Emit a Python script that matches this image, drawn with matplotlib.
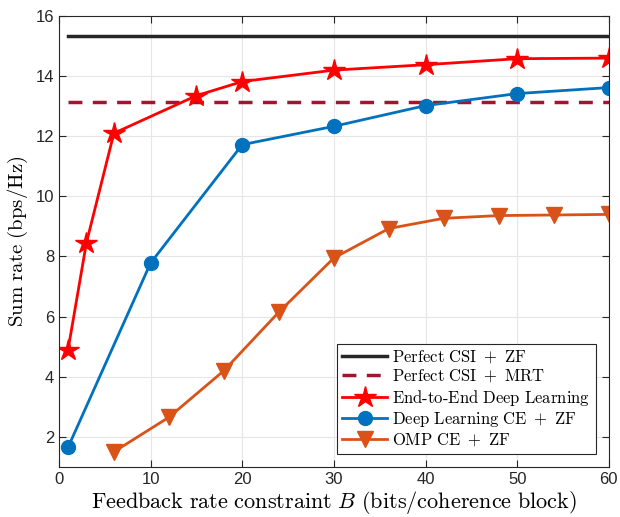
import matplotlib.pyplot as plt
import numpy as np

plt.rcParams['mathtext.fontset'] = 'cm'
plt.rcParams['font.family'] = ['Liberation Sans', 'DejaVu Sans']

# data
zf_perfect = 15.33
mrt_perfect = 13.15

b_e2e = [1, 3, 6, 15, 20, 30, 40, 50, 60]
rate_e2e = [4.9, 8.45, 12.1, 13.35, 13.82, 14.2, 14.38, 14.58, 14.6]

b_dlce = [1, 10, 20, 30, 40, 50, 60]
rate_dlce = [1.65, 7.78, 11.72, 12.33, 13.02, 13.42, 13.62]

b_omp = [6, 12, 18, 24, 30, 36, 42, 48, 54, 60]
rate_omp = [1.5, 2.65, 4.2, 6.15, 7.95, 8.93, 9.27, 9.36, 9.38, 9.4]

fig = plt.figure(figsize=(6.2, 5.17), dpi=100)
ax = fig.add_axes([0.095, 0.097, 0.887, 0.872])

ax.plot([1, 60], [zf_perfect] * 2, color='#262626', linewidth=2.5,
        label='Perfect CSI + ZF')
ax.plot([1, 60], [mrt_perfect] * 2, color='#A2142F', linewidth=2.5,
        linestyle=(0, (4, 3)), label='Perfect CSI + MRT')
ax.plot(b_e2e, rate_e2e, color='#FF0000', linewidth=2, marker='*',
        markersize=16, label='End-to-End Deep Learning')
ax.plot(b_dlce, rate_dlce, color='#0072BD', linewidth=2, marker='o',
        markersize=10, label='Deep Learning CE + ZF')
ax.plot(b_omp, rate_omp, color='#D95319', linewidth=2, marker='v',
        markersize=11, label='OMP CE + ZF')

ax.set_xlim(0, 60)
ax.set_ylim(1, 16)
ax.set_xticks(np.arange(0, 61, 10))
ax.set_yticks(np.arange(2, 17, 2))
ax.tick_params(direction='in', top=True, right=True, labelsize=12,
               colors='#262626', length=5)
ax.grid(True, color='#e6e6e6', linewidth=0.8)
ax.set_axisbelow(True)
for s in ax.spines.values():
    s.set_color('#262626')
    s.set_linewidth(0.8)

ax.set_xlabel(r'$\mathrm{Feedback\ rate\ constraint\ }B\mathrm{\ (bits/coherence\ block)}$',
              fontsize=16, labelpad=2)
ax.set_ylabel(r'$\mathrm{Sum\ rate\ (bps/Hz)}$', fontsize=15, labelpad=4)

leg = ax.legend(loc='lower right', fancybox=False,
                edgecolor='#262626', framealpha=1, handlelength=2.7,
                borderpad=0.3, labelspacing=0.15, handletextpad=0.3,
                borderaxespad=0.8, prop={'family': 'serif', 'size': 12})
for t in leg.get_texts():
    t.set_text(r'$\mathrm{' + t.get_text().replace(' ', r'\ ').replace('-', r'\text{-}') + '}$')
leg.get_frame().set_linewidth(0.8)

plt.savefig('out.png', dpi=100)
